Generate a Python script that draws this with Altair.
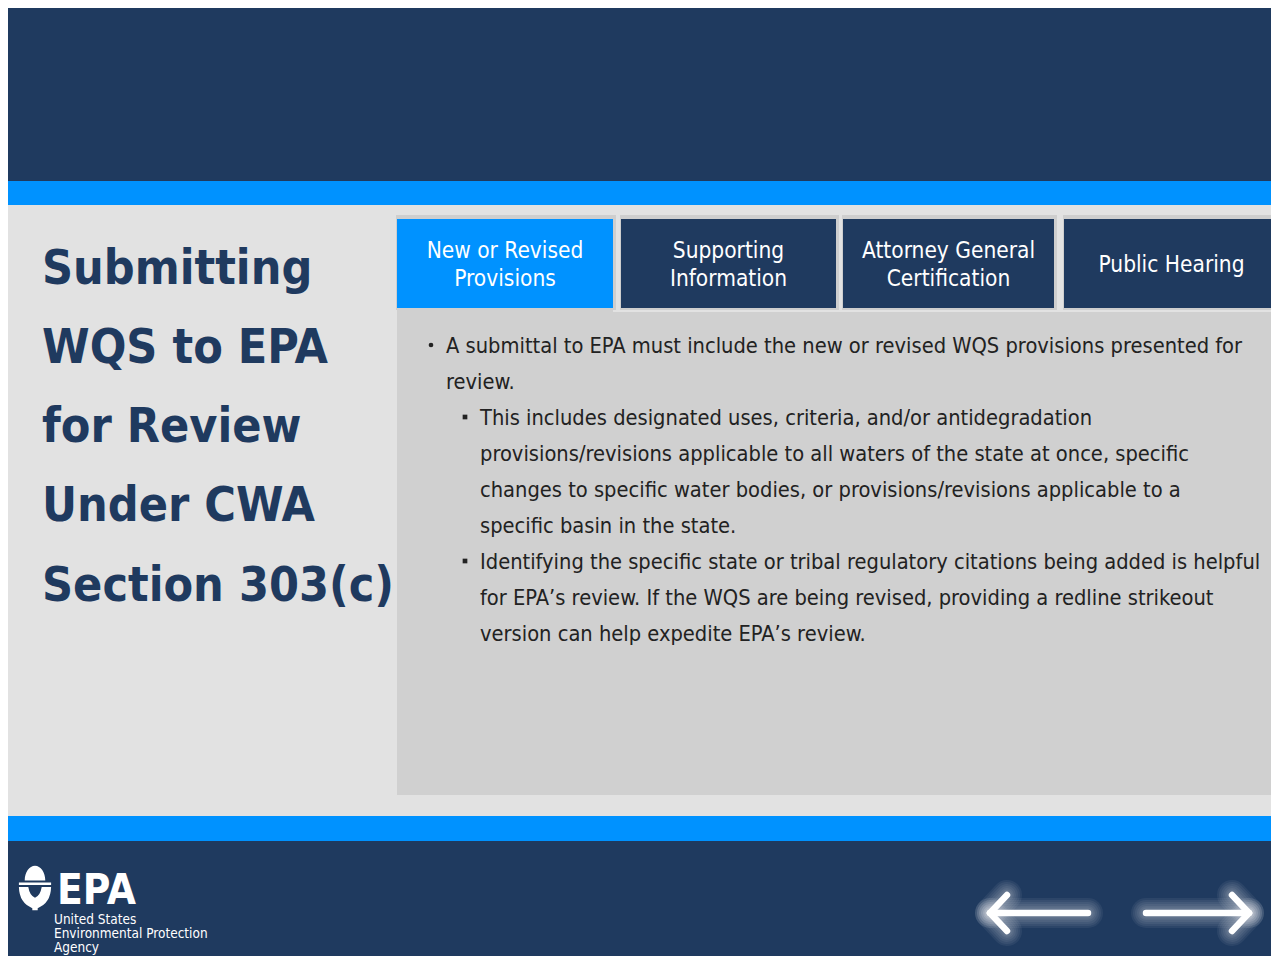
import altair as alt
import pandas as pd

# ---------------- palette ----------------
NAVY = "#1F3A5F"
BLUE = "#0092FF"
LIGHT = "#E2E2E2"
PANEL = "#D0D0D0"
SHADOW = "#9E9E9E"
INK = "#222222"
FONT = "DejaVu Sans Condensed, Liberation Sans, Arial, sans-serif"

# ---------------- canvas (page pixel coordinates) ----------------
W, H = 1263, 948
X0, Y0 = 8, 8

# ---------------- background blocks ----------------
blk_x1 = [8, 8, 8, 8, 8, 397]
blk_x2 = [1271, 1271, 1271, 1271, 1271, 1277]
blk_y1 = [8, 181, 205, 816, 841, 312]
blk_y2 = [181, 205, 816, 841, 956, 795]
blk_col = [NAVY, BLUE, LIGHT, BLUE, NAVY, PANEL]

# ---------------- tabs ----------------
tab_x1 = [397, 621, 843, 1064]
tab_x2 = [613, 836, 1054, 1279]
tab_y1 = [219, 219, 219, 219]
tab_y2 = [308, 308, 308, 308]
tab_col = [BLUE, NAVY, NAVY, NAVY]
tab_lines = [["New or Revised", "Provisions"],
             ["Supporting", "Information"],
             ["Attorney General", "Certification"],
             ["Public Hearing"]]

# ---------------- title ----------------
title_lines = ["Submitting", "WQS to EPA", "for Review", "Under CWA", "Section 303(c)"]
title_base = [284, 363, 442, 521, 601]

# ---------------- body text ----------------
body_lines = [
    "A submittal to EPA must include the new or revised WQS provisions presented for",
    "review.",
    "This includes designated uses, criteria, and/or antidegradation",
    "provisions/revisions applicable to all waters of the state at once, specific",
    "changes to specific water bodies, or provisions/revisions applicable to a",
    "specific basin in the state.",
    "Identifying the specific state or tribal regulatory citations being added is helpful",
    "for EPA\u2019s review. If the WQS are being revised, providing a redline strikeout",
    "version can help expedite EPA\u2019s review.",
]
body_level = [1, 1, 2, 2, 2, 2, 2, 2, 2]
body_bullet = [True, False, True, False, False, False, True, False, False]
body_base = [353, 389, 425, 461, 497, 533, 569, 605, 641]

# ---------------- logo text ----------------
agency_lines = ["United States", "Environmental Protection", "Agency"]
agency_base = [924, 938, 952]

# ---------------- arrows (segments) ----------------
arr_x1 = [990, 990, 990, 1146, 1249, 1249]
arr_y1 = [913, 913, 913, 913, 913, 913]
arr_x2 = [1088, 1007, 1007, 1249, 1232, 1232]
arr_y2 = [913, 895, 931, 913, 895, 931]

# ---------------- scales ----------------
xs = alt.Scale(domain=[X0, X0 + W], nice=False, zero=False)
ys = alt.Scale(domain=[Y0, Y0 + H], nice=False, zero=False, reverse=True)


def X(f):
    return alt.X(f, type="quantitative", scale=xs, axis=None)


def Y(f):
    return alt.Y(f, type="quantitative", scale=ys, axis=None)


# background
bg = pd.DataFrame({"x": blk_x1, "x2": blk_x2, "y": blk_y1, "y2": blk_y2, "c": blk_col})
bg_layer = alt.Chart(bg).mark_rect().encode(
    x=X("x"), x2="x2", y=Y("y"), y2="y2", color=alt.Color("c:N", scale=None)
)

# tab shadows
sh = pd.DataFrame({
    "x": [a - 1 for a in tab_x1], "x2": [b + 3 for b in tab_x2],
    "y": [a - 4 for a in tab_y1], "y2": [b + 2 for b in tab_y2],
})
sh_layer = alt.Chart(sh).mark_rect(color=SHADOW, opacity=0.3).encode(
    x=X("x"), x2="x2", y=Y("y"), y2="y2"
)

tabs = pd.DataFrame({"x": tab_x1, "x2": tab_x2, "y": tab_y1, "y2": tab_y2, "c": tab_col})
tab_layer = alt.Chart(tabs).mark_rect().encode(
    x=X("x"), x2="x2", y=Y("y"), y2="y2", color=alt.Color("c:N", scale=None)
)
# active tab joins the panel
join = pd.DataFrame({"x": [tab_x1[0]], "x2": [tab_x2[0]], "y": [tab_y2[0]], "y2": [blk_y1[5] + 1]})
join_layer = alt.Chart(join).mark_rect(color=PANEL).encode(
    x=X("x"), x2="x2", y=Y("y"), y2="y2"
)

# tab labels
rows = []
for x1, x2, y1, y2, lines in zip(tab_x1, tab_x2, tab_y1, tab_y2, tab_lines):
    cx = (x1 + x2) / 2
    cy = (y1 + y2) / 2
    n = len(lines)
    for i, t in enumerate(lines):
        rows.append({"x": cx, "y": cy + (i - (n - 1) / 2) * 28 + 8, "t": t})
tab_text = alt.Chart(pd.DataFrame(rows)).mark_text(
    font=FONT, fontSize=22.5, color="white", align="center", baseline="alphabetic"
).encode(x=X("x"), y=Y("y"), text="t:N")

# title
tdf = pd.DataFrame({"x": [42] * len(title_lines), "y": title_base, "t": title_lines})
title_layer = alt.Chart(tdf).mark_text(
    font=FONT, fontSize=48, fontWeight="bold", color=NAVY, align="left", baseline="alphabetic"
).encode(x=X("x"), y=Y("y"), text="t:N")

# body
bx = {1: 446, 2: 480}
bdf = pd.DataFrame({
    "x": [bx[l] for l in body_level], "y": body_base, "t": body_lines
})
body_layer = alt.Chart(bdf).mark_text(
    font=FONT, fontSize=21.7, color=INK, align="left", baseline="alphabetic"
).encode(x=X("x"), y=Y("y"), text="t:N")

bul = pd.DataFrame({
    "x": [bx[l] - 15 for l, b in zip(body_level, body_bullet) if b],
    "y": [y - 8 for y, b in zip(body_base, body_bullet) if b],
    "s": ["circle" if l == 1 else "square" for l, b in zip(body_level, body_bullet) if b],
})
bul_layer = alt.Chart(bul).mark_point(filled=True, color=INK, opacity=1, size=22).encode(
    x=X("x"), y=Y("y"), shape=alt.Shape("s:N", scale=None)
)

# logo
LOGO = ("M -0.46 -0.34 A 0.46 0.66 0 0 1 0.46 -0.34 Z "
        "M -0.72 -0.25 L 0.72 -0.25 L 0.72 -0.13 L -0.72 -0.13 Z "
        "M -0.72 -0.04 L -0.3 -0.04 Q -0.24 0.34 0 0.44 Q 0.24 0.34 0.3 -0.04 "
        "L 0.72 -0.04 Q 0.7 0.68 0.12 0.9 L 0.12 1 L -0.12 1 L -0.12 0.9 Q -0.7 0.68 -0.72 -0.04 Z")
logo_df = pd.DataFrame({"x": [35], "y": [888]})
logo_layer = alt.Chart(logo_df).mark_point(
    shape=LOGO, filled=True, color="white", opacity=1, size=2000
).encode(x=X("x"), y=Y("y"))

epa_df = pd.DataFrame({"x": [57], "y": [904], "t": ["EPA"]})
epa_layer = alt.Chart(epa_df).mark_text(
    font=FONT, fontSize=42, fontWeight="bold", color="white", align="left", baseline="alphabetic"
).encode(x=X("x"), y=Y("y"), text="t:N")

ag_df = pd.DataFrame({"x": [54] * 3, "y": agency_base, "t": agency_lines})
ag_layer = alt.Chart(ag_df).mark_text(
    font=FONT, fontSize=13.5, color="white", align="left", baseline="alphabetic"
).encode(x=X("x"), y=Y("y"), text="t:N")

# arrows
adf = pd.DataFrame({"x": arr_x1, "y": arr_y1, "x2": arr_x2, "y2": arr_y2})


def arrow(width, op):
    return alt.Chart(adf).mark_rule(
        color="white", strokeWidth=width, opacity=op, strokeCap="round"
    ).encode(x=X("x"), y=Y("y"), x2="x2", y2="y2")


arrows = [arrow(w, 0.06) for w in (30, 26, 22, 18, 14, 11)] + [arrow(6.5, 1)]

chart = alt.layer(
    bg_layer, sh_layer, tab_layer, join_layer, tab_text, title_layer,
    body_layer, bul_layer, logo_layer, epa_layer, ag_layer, *arrows
).properties(
    width=W, height=H, padding=0, autosize=alt.AutoSizeParams(type="none"),
    background="white"
).configure_view(stroke=None)

chart.save("out.html", embed_options={"renderer": "svg", "actions": False})
